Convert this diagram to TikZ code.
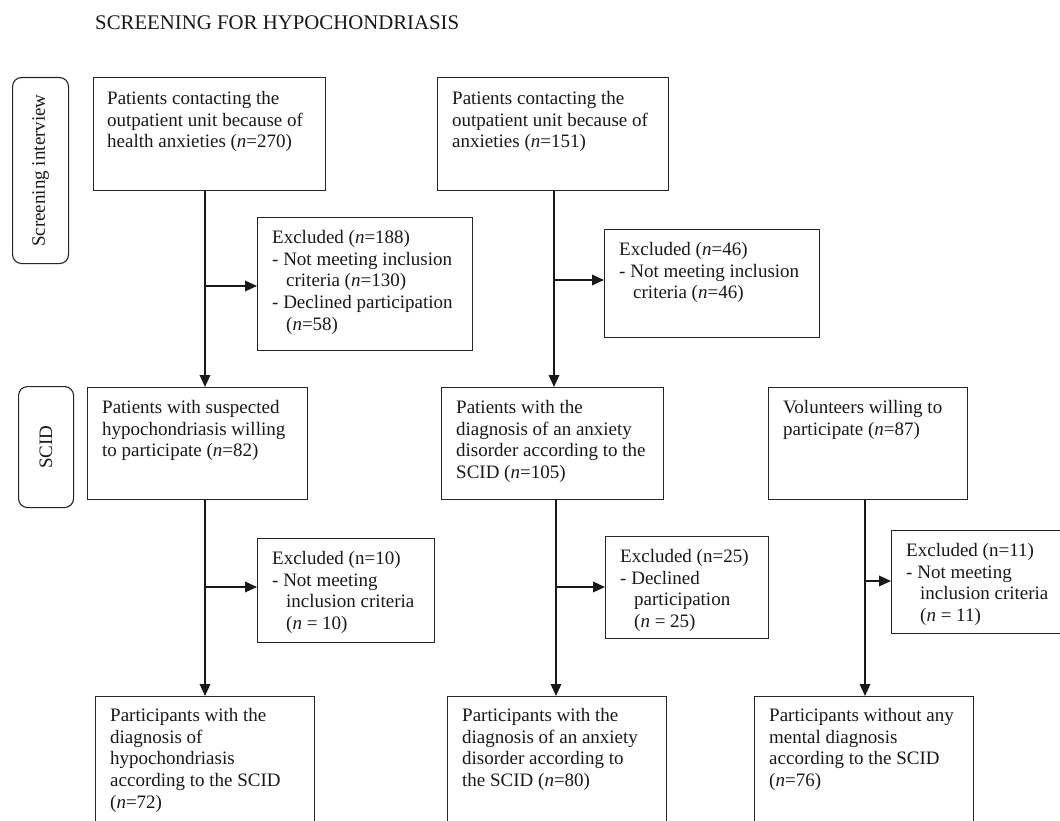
\documentclass[tikz,border=0pt]{standalone}
\usepackage{fontspec}
\setmainfont{Liberation Serif}
\usetikzlibrary{arrows.meta,calc}
\newcommand\myind{\hspace*{14pt}}
\begin{document}
\begin{tikzpicture}[x=1pt,y=-1pt,
  box/.style={draw=black!85, line width=1.1pt, anchor=north west, inner sep=0pt},
  lab/.style={draw=black!85, line width=1.1pt, rounded corners=9pt, anchor=north west, inner sep=0pt},
  txt/.style={anchor=north west, inner sep=0pt, align=left, font=\fontsize{19}{21.7}\selectfont, text=black!90},
  arr/.style={line width=1.8pt, draw=black!90, -{Triangle[length=12pt,width=10.5pt]}}
]
\clip (0,0) rectangle (1060,821);
\fill[white] (0,0) rectangle (1060,821);

\node[anchor=base west, inner sep=0pt, font=\fontsize{20.8}{23}\selectfont, text=black!90] (title) at (95,30) {SCREENING FOR HYPOCHONDRIASIS};

% side labels
\node[lab, minimum width=56pt, minimum height=186pt] (si) at (12,77) {};
\node[rotate=90, inner sep=0pt, font=\fontsize{19}{21}\selectfont, text=black!90] (sit) at (si.center) {Screening interview};
\node[lab, minimum width=55pt, minimum height=121pt] (sc) at (18,386) {};
\node[rotate=90, inner sep=0pt, font=\fontsize{19}{21}\selectfont, text=black!90] (sct) at (sc.center) {SCID};

% boxes
\node[box, minimum width=232pt, minimum height=113pt] (a1) at (93,77) {};
\node[box, minimum width=231pt, minimum height=113pt] (a2) at (437,77) {};
\node[box, minimum width=215pt, minimum height=133pt] (e1) at (257,217) {};
\node[box, minimum width=215pt, minimum height=108pt] (e2) at (604,229) {};
\node[box, minimum width=220pt, minimum height=112pt] (b1) at (87,387) {};
\node[box, minimum width=222pt, minimum height=112pt] (b2) at (441,387) {};
\node[box, minimum width=199pt, minimum height=112pt] (b3) at (768,387) {};
\node[box, minimum width=177pt, minimum height=104pt] (e3) at (257,538) {};
\node[box, minimum width=163pt, minimum height=102pt] (e4) at (605,536) {};
\node[box, minimum width=180pt, minimum height=103pt] (e5) at (891,530) {};
\node[box, minimum width=219pt, minimum height=140pt] (c1) at (95,696) {};
\node[box, minimum width=219pt, minimum height=140pt] (c2) at (447,696) {};
\node[box, minimum width=219pt, minimum height=140pt] (c3) at (754,696) {};

% texts
\node[txt] (a1t) at ($(a1.north west)+(14,14)$) {Patients contacting the\\outpatient unit because of\\health anxieties (\textit{n}=270)};
\node[txt] (a2t) at ($(a2.north west)+(15,14)$) {Patients contacting the\\outpatient unit because of\\anxieties (\textit{n}=151)};
\node[txt] (e1t) at ($(e1.north west)+(15,13)$) {Excluded (\textit{n}=188)\\- Not meeting inclusion\\\myind criteria (\textit{n}=130)\\- Declined participation\\\myind (\textit{n}=58)};
\node[txt] (e2t) at ($(e2.north west)+(15,13)$) {Excluded (\textit{n}=46)\\- Not meeting inclusion\\\myind criteria (\textit{n}=46)};
\node[txt] (b1t) at ($(b1.north west)+(15,13)$) {Patients with suspected\\hypochondriasis willing\\to participate (\textit{n}=82)};
\node[txt] (b2t) at ($(b2.north west)+(15,13)$) {Patients with the\\diagnosis of an anxiety\\disorder according to the\\SCID (\textit{n}=105)};
\node[txt] (b3t) at ($(b3.north west)+(15,13)$) {Volunteers willing to\\participate (\textit{n}=87)};
\node[txt] (e3t) at ($(e3.north west)+(15,13)$) {Excluded (n=10)\\- Not meeting\\\myind inclusion criteria\\\myind (\textit{n} = 10)};
\node[txt] (e4t) at ($(e4.north west)+(15,13)$) {Excluded (n=25)\\- Declined\\\myind participation\\\myind (\textit{n} = 25)};
\node[txt] (e5t) at ($(e5.north west)+(15,13)$) {Excluded (n=11)\\- Not meeting\\\myind inclusion criteria\\\myind (\textit{n} = 11)};
\node[txt] (c1t) at ($(c1.north west)+(15,12)$) {Participants with the\\diagnosis of\\hypochondriasis\\according to the SCID\\(\textit{n}=72)};
\node[txt] (c2t) at ($(c2.north west)+(15,12)$) {Participants with the\\diagnosis of an anxiety\\disorder according to\\the SCID (\textit{n}=80)};
\node[txt] (c3t) at ($(c3.north west)+(15,12)$) {Participants without any\\mental diagnosis\\according to the SCID\\(\textit{n}=76)};

% junctions
\coordinate (j1) at (205,286);
\coordinate (j2) at (554,280);
\coordinate (j3) at (205,587);
\coordinate (j4) at (556,587);
\coordinate (j5) at (865,581);

\draw[arr] (a1.south -| j1) -- (b1.north -| j1);
\draw[arr] (j1) -- (e1.west |- j1);
\draw[arr] (a2.south -| j2) -- (b2.north -| j2);
\draw[arr] (j2) -- (e2.west |- j2);
\draw[arr] (b1.south -| j3) -- (c1.north -| j3);
\draw[arr] (j3) -- (e3.west |- j3);
\draw[arr] (b2.south -| j4) -- (c2.north -| j4);
\draw[arr] (j4) -- (e4.west |- j4);
\draw[arr] (b3.south -| j5) -- (c3.north -| j5);
\draw[arr] (j5) -- (e5.west |- j5);
\end{tikzpicture}
\end{document}
